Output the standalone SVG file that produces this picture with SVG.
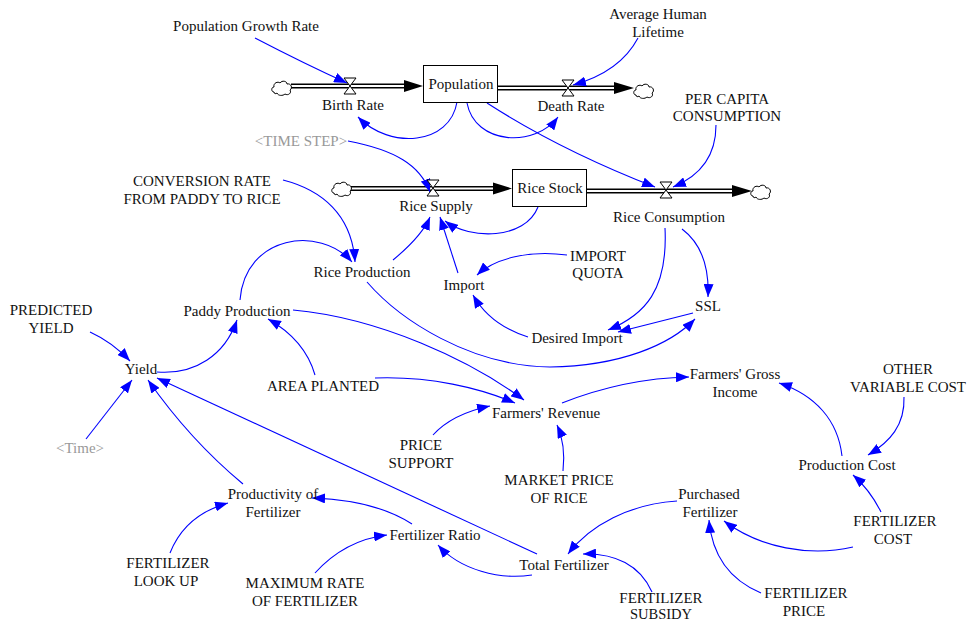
<svg xmlns="http://www.w3.org/2000/svg" width="971" height="623" viewBox="0 0 971 623">
<style>
text{font-family:"Liberation Serif","Times New Roman",serif;font-size:15px;fill:#111;text-anchor:middle}
.sh{fill:#999}
.lk{fill:none;stroke:#0000ff;stroke-width:1.1;marker-end:url(#ab)}
.po{fill:none;stroke:#000;stroke-width:5}
.pi{fill:none;stroke:#fff;stroke-width:2.2}
.valve{fill:#fff;stroke:#000;stroke-width:1}
.cloud{fill:#fff;stroke:#000;stroke-width:1}
.stock{fill:#fff;stroke:#000;stroke-width:1}
.fh{fill:#000}
</style>
<defs>
<marker id="ab" markerUnits="userSpaceOnUse" markerWidth="14" markerHeight="10" refX="13" refY="5" orient="auto">
<path d="M0,0 L13,5 L0,10 Z" fill="#0000ff"/>
</marker>
<path id="cl" class="cloud" d="M-8,4 C-11,4 -11,-1 -8,-1 C-9,-5 -4,-7 -2,-5 C0,-8 5,-7 5,-4 C9,-5 11,0 8,2 C10,5 6,8 3,6 C1,8 -4,8 -5,5 C-6,6 -8,6 -8,4 Z"/>
<path id="vv" class="valve" d="M-6,-8 H6 L-6,8 H6 Z"/>
</defs>
<rect width="971" height="623" fill="#fff"/>

<g id="connectors">
<g id="flows">
<path class="po" d="M291,86 H406"/><path class="pi" d="M291,86 H406"/>
<path class="fh" d="M404,80 L423,86 L404,92 Z"/>
<path class="po" d="M498,88 H616"/><path class="pi" d="M498,88 H616"/>
<path class="fh" d="M614,82 L634,88 L614,94 Z"/>
<path class="po" d="M351,188.5 H495"/><path class="pi" d="M351,188.5 H495"/>
<path class="fh" d="M493,182.5 L512,188.5 L493,194.5 Z"/>
<path class="po" d="M587,191 H734"/><path class="pi" d="M587,191 H734"/>
<path class="fh" d="M732,185 L752,191 L732,197 Z"/>
</g>
<path class="lk" d="M255,38 Q305,64 347,83"/>
<path class="lk" d="M638,38 Q620,72 573,85"/>
<path class="lk" d="M457,102 C450,145 390,150 358,117"/>
<path class="lk" d="M467,103 C475,145 535,148 558,117"/>
<path class="lk" d="M487,103 Q560,150 655,187"/>
<path class="lk" d="M716,125 C716,160 695,178 673,187"/>
<path class="lk" d="M348,141 C395,150 420,165 430,192"/>
<path class="lk" d="M538,207 C525,240 470,240 445,221"/>
<path class="lk" d="M393,260 Q422,236 430,217"/>
<path class="lk" d="M458,273 L440,217"/>
<path class="lk" d="M283,180 C322,190 352,215 355,262"/>
<path class="lk" d="M240,300 C245,235 320,225 352,262"/>
<path class="lk" d="M567,255 C530,250 495,258 477,275"/>
<path class="lk" d="M528,337 Q490,325 473,295"/>
<path class="lk" d="M682,229 Q710,250 708,297"/>
<path class="lk" d="M665,228 C668,290 645,315 608,330"/>
<path class="lk" d="M693,313 L618,332"/>
<path class="lk" d="M367,282 C400,320 470,366 550,367 C620,366 670,345 695,319"/>
<path class="lk" d="M293,310 C380,318 470,360 524,400"/>
<path class="lk" d="M375,378 C430,376 480,388 515,403"/>
<path class="lk" d="M315,375 Q305,340 268,319"/>
<path class="lk" d="M157,372 C195,375 225,355 237,320"/>
<path class="lk" d="M90,332 Q112,342 130,361"/>
<path class="lk" d="M86,439 L132,380"/>
<path class="lk" d="M243,484 Q190,440 148,380"/>
<path class="lk" d="M537,554 L157,378"/>
<path class="lk" d="M412,524 Q375,500 312,498"/>
<path class="lk" d="M315,573 Q345,540 387,535"/>
<path class="lk" d="M170,553 Q185,515 228,503"/>
<path class="lk" d="M532,575 C500,580 460,570 438,545"/>
<path class="lk" d="M677,501 C630,504 590,525 568,554"/>
<path class="lk" d="M652,592 C640,565 615,553 583,554"/>
<path class="lk" d="M761,593 C730,580 712,555 709,520"/>
<path class="lk" d="M853,547 C810,557 760,548 724,521"/>
<path class="lk" d="M881,512 Q870,490 853,475"/>
<path class="lk" d="M904,397 C905,425 890,442 868,455"/>
<path class="lk" d="M842,456 C838,420 815,395 779,383"/>
<path class="lk" d="M562,403 C600,388 640,378 689,377"/>
<path class="lk" d="M433,435 Q452,414 490,406"/>
<path class="lk" d="M563,471 Q566,445 557,425"/>
</g>

<g id="cloud-birth-src"><use href="#cl" x="282" y="88"/></g>
<g id="cloud-death-sink"><use href="#cl" x="644" y="91"/></g>
<g id="cloud-supply-src"><use href="#cl" x="342" y="189"/></g>
<g id="cloud-consumption-sink"><use href="#cl" x="761" y="192"/></g>

<g id="population"><rect class="stock" x="423.5" y="65.5" width="74" height="37"/><text x="461" y="89">Population</text></g>
<g id="rice-stock"><rect class="stock" x="512.5" y="169.5" width="74" height="37"/><text x="550" y="193">Rice Stock</text></g>

<g id="birth-rate"><use href="#vv" x="350" y="86"/><text x="353" y="110">Birth Rate</text></g>
<g id="death-rate"><use href="#vv" x="568" y="88"/><text x="571" y="111">Death Rate</text></g>
<g id="rice-supply"><use href="#vv" x="433" y="188"/><text x="436" y="211">Rice Supply</text></g>
<g id="rice-consumption"><use href="#vv" x="666" y="190"/><text x="669" y="222">Rice Consumption</text></g>

<g id="population-growth-rate"><text x="246" y="31">Population Growth Rate</text></g>
<g id="average-human-lifetime"><text x="658" y="19">Average Human</text><text x="658" y="37">Lifetime</text></g>
<g id="time-step"><text class="sh" x="301" y="146">&lt;TIME STEP&gt;</text></g>
<g id="per-capita-consumption"><text x="727" y="104">PER CAPITA</text><text x="727" y="121">CONSUMPTION</text></g>
<g id="conversion-rate"><text x="202" y="186">CONVERSION RATE</text><text x="202" y="204">FROM PADDY TO RICE</text></g>
<g id="rice-production"><text x="362" y="277">Rice Production</text></g>
<g id="import"><text x="464" y="290">Import</text></g>
<g id="import-quota"><text x="598" y="261">IMPORT</text><text x="598" y="278">QUOTA</text></g>
<g id="ssl"><text x="708" y="311">SSL</text></g>
<g id="desired-import"><text x="577" y="343">Desired Import</text></g>
<g id="predicted-yield"><text x="51" y="315">PREDICTED</text><text x="51" y="333">YIELD</text></g>
<g id="paddy-production"><text x="237" y="316">Paddy Production</text></g>
<g id="yield"><text x="141" y="374">Yield</text></g>
<g id="area-planted"><text x="323" y="391">AREA PLANTED</text></g>
<g id="time"><text class="sh" x="80" y="453">&lt;Time&gt;</text></g>
<g id="productivity-of-fertilizer"><text x="273" y="499">Productivity of</text><text x="273" y="517">Fertilizer</text></g>
<g id="fertilizer-look-up"><text x="168" y="568">FERTILIZER</text><text x="166" y="586">LOOK UP</text></g>
<g id="maximum-rate"><text x="305" y="588">MAXIMUM RATE</text><text x="305" y="606">OF FERTILIZER</text></g>
<g id="fertilizer-ratio"><text x="435" y="540">Fertilizer Ratio</text></g>
<g id="price-support"><text x="421" y="450">PRICE</text><text x="421" y="468">SUPPORT</text></g>
<g id="farmers-gross-income"><text x="735" y="379">Farmers' Gross</text><text x="735" y="397">Income</text></g>
<g id="other-variable-cost"><text x="908" y="374">OTHER</text><text x="908" y="392">VARIABLE COST</text></g>
<g id="farmers-revenue"><text x="546" y="418">Farmers' Revenue</text></g>
<g id="production-cost"><text x="847" y="470">Production Cost</text></g>
<g id="market-price"><text x="559" y="485">MARKET PRICE</text><text x="559" y="503">OF RICE</text></g>
<g id="purchased-fertilizer"><text x="709" y="499">Purchased</text><text x="710" y="517">Fertilizer</text></g>
<g id="fertilizer-cost"><text x="895" y="526">FERTILIZER</text><text x="893" y="544">COST</text></g>
<g id="total-fertilizer"><text x="564" y="570">Total Fertilizer</text></g>
<g id="fertilizer-subsidy"><text x="661" y="603">FERTILIZER</text><text x="661" y="619" style="font-size:14.5px">SUBSIDY</text></g>
<g id="fertilizer-price"><text x="806" y="598">FERTILIZER</text><text x="804" y="616">PRICE</text></g>
</svg>
